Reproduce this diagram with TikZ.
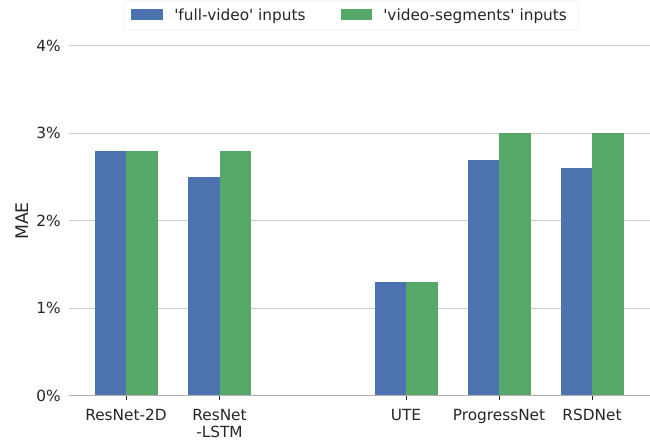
\documentclass[tikz,border=0pt]{standalone}
\usepackage{fontspec}
\newfontfamily\dv{DejaVu Sans}
\definecolor{sbblue}{HTML}{4C72B0}
\definecolor{sbgreen}{HTML}{55A868}
\definecolor{gridc}{HTML}{CCCCCC}
\definecolor{axc}{HTML}{B0B0B0}
\definecolor{txt}{HTML}{262626}
\begin{document}
\begin{tikzpicture}[x=0.75pt,y=-0.75pt,
  tick/.style={font=\dv\fontsize{11.5}{12.5}\selectfont,text=txt,inner sep=0pt},
  bluebar/.style={fill=sbblue},
  greenbar/.style={fill=sbgreen},
  grid/.style={draw=gridc,line width=0.8pt}]
\useasboundingbox (0,0) rectangle (650,440);
\def\yz{395.5}
\def\u{87.4}
% gridlines
\foreach \v in {1,2,3,4}{
  \draw[grid] (69,{\yz-\v*\u}) -- (650,{\yz-\v*\u});
  \node[tick,anchor=east] at (61,{\yz-\v*\u}) {\v\%};
}
\node[tick,anchor=east] at (61,\yz) {0\%};
% bars
\foreach \c/\b/\g in {126/2.8/2.8, 219.5/2.5/2.8, 406/1.3/1.3, 499/2.7/3.0, 592/2.6/3.0}{
  \fill[bluebar] ({\c-31.5},\yz) rectangle (\c,{\yz-\b*\u});
  \fill[greenbar] (\c,\yz) rectangle ({\c+31.5},{\yz-\g*\u});
  \draw[txt,line width=0.6pt] (\c,\yz) -- (\c,{\yz+4});
}
\draw[axc,line width=1.4pt] (69,\yz) -- (650,\yz);
% x labels
\node[tick,anchor=base] (l1) at (126,420.6) {ResNet-2D};
\node[tick,align=center,anchor=north] (l2) at (219.5,409.4) {ResNet\\-LSTM};
\node[tick,anchor=base] (l3) at (406,420.6) {UTE};
\node[tick,anchor=base] (l4) at (499,420.6) {ProgressNet};
\node[tick,anchor=base] (l5) at (592,420.6) {RSDNet};
% y label
\node[rotate=90,text=txt,font=\dv\fontsize{13}{15}\selectfont,inner sep=0pt] (yl) at (22,221) {MAE};
% legend
\draw[draw=gray!15,fill=white,rounded corners=1.5pt] (124,1) rectangle (578,30);
\fill[sbblue] (131,9) rectangle (162.5,20);
\node[tick,anchor=base west] (lg1) at (174,20.5) {'full-video' inputs};
\fill[sbgreen] (341,9) rectangle (372,20);
\node[tick,anchor=base west] (lg2) at (383,20.5) {'video-segments' inputs};
\end{tikzpicture}
\end{document}
